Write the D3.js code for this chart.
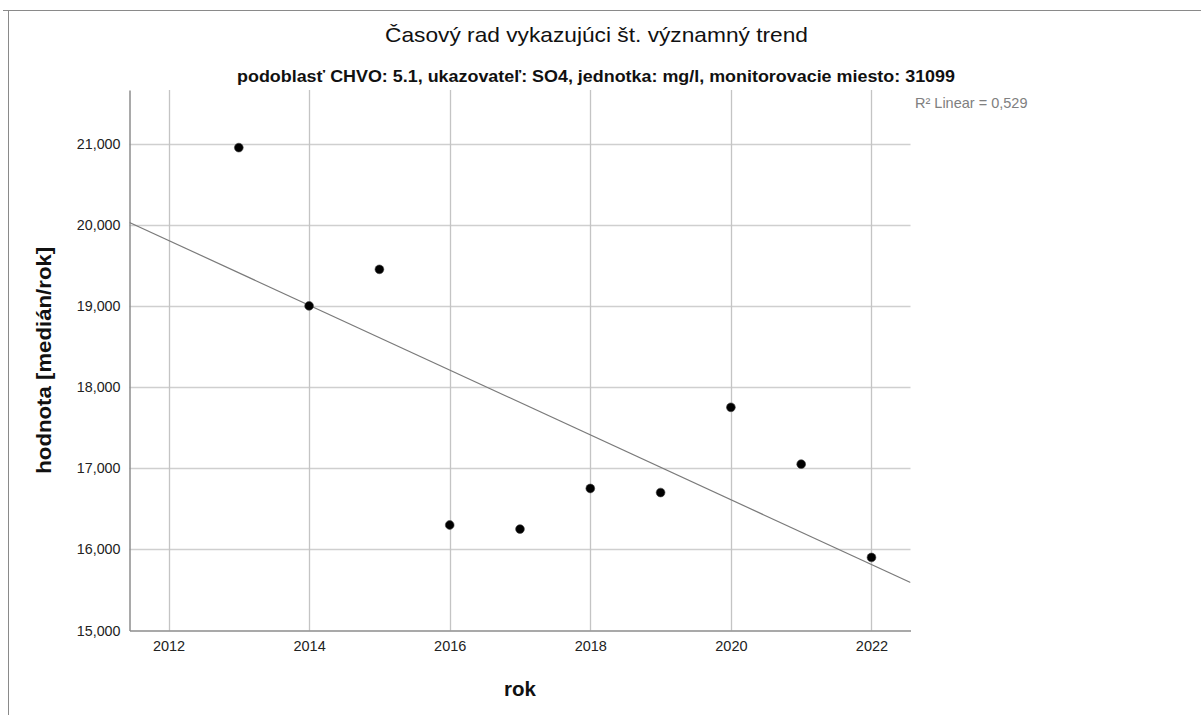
<!DOCTYPE html>
<html><head><meta charset="utf-8">
<script src="https://cdn.jsdelivr.net/npm/d3@7"></script>
<style>
html,body{margin:0;padding:0;background:#fff;}
svg{display:block;font-family:Arial,"Liberation Sans",sans-serif;}
</style></head>
<body><svg id="c" width="1201" height="715"></svg>
<script>
const years = [2013, 2014, 2015, 2016, 2017, 2018, 2019, 2020, 2021, 2022];
const values = [20950, 19000, 19450, 16300, 16250, 16750, 16700, 17750, 17050, 15900];
const xTicks = [2012, 2014, 2016, 2018, 2020, 2022];
const yTicks = [15000, 16000, 17000, 18000, 19000, 20000, 21000];
const title = "Časový rad vykazujúci št. významný trend";
const subtitle = "podoblasť CHVO: 5.1, ukazovateľ: SO4, jednotka: mg/l, monitorovacie miesto: 31099";
const xLabel = "rok";
const yLabel = "hodnota [medián/rok]";

const svg = d3.select("#c");
const L = 129.5, R = 910.5, T = 90, B = 630.5;
const x = d3.scaleLinear().domain([2011.445, 2022.555]).range([L, R]);
const y = d3.scaleLinear().domain([15000, 21660]).range([B, T]);

// outer frame
svg.append("line").attr("x1", 8.5).attr("x2", 8.5).attr("y1", 10.5).attr("y2", 715).attr("stroke", "#8a8a8a");
svg.append("line").attr("x1", 3).attr("x2", 1201).attr("y1", 10.5).attr("y2", 10.5).attr("stroke", "#8a8a8a");

// titles
svg.append("text").attr("x", 596.5).attr("y", 42).attr("text-anchor", "middle")
  .attr("font-size", 21).attr("fill", "#111")
  .attr("textLength", 423).attr("lengthAdjust", "spacingAndGlyphs").text(title);
svg.append("text").attr("x", 596).attr("y", 82).attr("text-anchor", "middle")
  .attr("font-size", 16.5).attr("font-weight", "bold").attr("fill", "#111")
  .attr("textLength", 718).attr("lengthAdjust", "spacingAndGlyphs").text(subtitle);

// grid
svg.append("g").selectAll("line").data(yTicks.filter(d => d > 15000)).join("line")
  .attr("x1", L).attr("x2", R).attr("y1", d => Math.round(y(d)) + 0.5).attr("y2", d => Math.round(y(d)) + 0.5)
  .attr("stroke", "#cfcfcf").attr("stroke-width", 1.3);
svg.append("g").selectAll("line").data(xTicks).join("line")
  .attr("y1", T).attr("y2", B).attr("x1", d => Math.round(x(d)) + 0.5).attr("x2", d => Math.round(x(d)) + 0.5)
  .attr("stroke", "#c4c4c4").attr("stroke-width", 1.3);

// axes
const xAxis = d3.axisBottom(x).tickValues(xTicks).tickFormat(d3.format("d")).tickSize(0).tickPadding(10);
const gx = svg.append("g").attr("transform", `translate(0,${B})`).call(xAxis);
gx.select(".domain").attr("stroke", "#8c8c8c").attr("stroke-width", 1.5);
gx.selectAll("text").attr("font-size", 14.5).attr("fill", "#222").attr("font-family", "Arial,'Liberation Sans',sans-serif");

const yAxis = d3.axisLeft(y).tickValues(yTicks).tickFormat(d3.format(",")).tickSize(0).tickPadding(9);
const gy = svg.append("g").attr("transform", `translate(${L},0)`).call(yAxis);
gy.select(".domain").attr("stroke", "#8c8c8c").attr("stroke-width", 1.5);
gy.selectAll("text").attr("font-size", 14.3).attr("fill", "#222").attr("font-family", "Arial,'Liberation Sans',sans-serif");

// axis titles
svg.append("text").attr("x", 520).attr("y", 696).attr("text-anchor", "middle")
  .attr("font-size", 20.5).attr("font-weight", "bold").attr("fill", "#111").text(xLabel);
svg.append("text").attr("transform", `translate(51,${(T + B) / 2}) rotate(-90)`).attr("text-anchor", "middle")
  .attr("font-size", 20.5).attr("font-weight", "bold").attr("fill", "#111")
  .attr("textLength", 227).attr("lengthAdjust", "spacingAndGlyphs").text(yLabel);

// regression
const n = years.length;
const mx = d3.mean(years), my = d3.mean(values);
let sxy = 0, sxx = 0, syy = 0;
for (let i = 0; i < n; i++) {
  sxy += (years[i] - mx) * (values[i] - my);
  sxx += (years[i] - mx) ** 2;
  syy += (values[i] - my) ** 2;
}
const slope = sxy / sxx, icpt = my - slope * mx;
const r2 = (sxy * sxy) / (sxx * syy);
const [x0, x1] = x.domain();
svg.append("clipPath").attr("id", "clip").append("rect").attr("x", L).attr("y", T).attr("width", R - L).attr("height", B - T);
svg.append("line").attr("clip-path", "url(#clip)")
  .attr("x1", x(x0)).attr("y1", y(icpt + slope * x0))
  .attr("x2", x(x1)).attr("y2", y(icpt + slope * x1))
  .attr("stroke", "#7a7a7a").attr("stroke-width", 1.2);

// points
svg.append("g").selectAll("circle").data(years).join("circle")
  .attr("cx", d => x(d)).attr("cy", (d, i) => y(values[i]))
  .attr("r", 4.4).attr("fill", "#000").attr("stroke", "#444").attr("stroke-width", 0.6);

// R2 label
svg.append("text").attr("x", 915).attr("y", 108).attr("font-size", 14.5).attr("fill", "#808080")
  .text("R\u00B2 Linear = " + d3.format(".3f")(r2).replace(".", ","));
</script></body></html>
